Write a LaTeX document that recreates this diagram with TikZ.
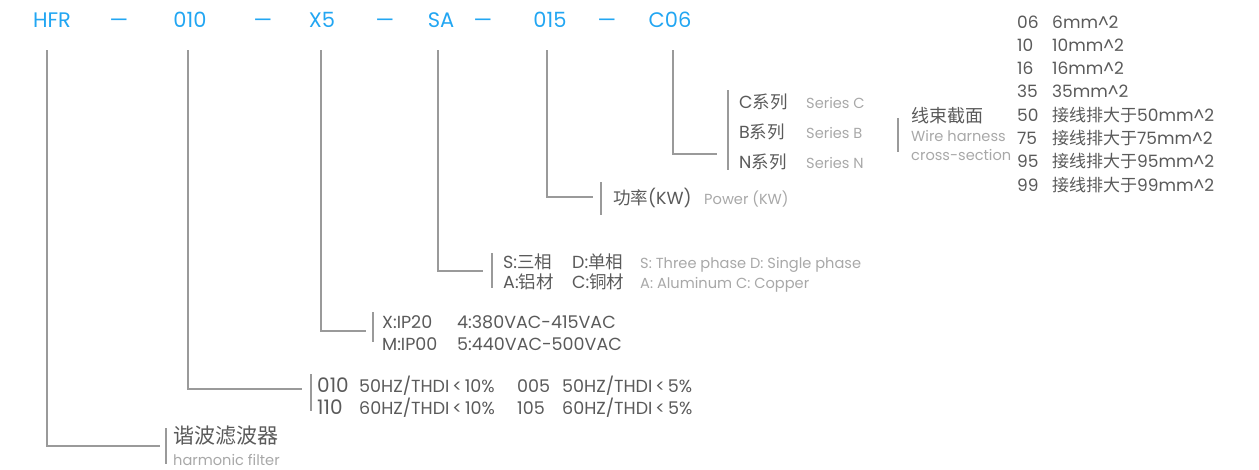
\documentclass[tikz,border=0pt]{standalone}
\usepackage{fontspec}
\setmainfont{Poppins}
\newfontfamily\cjk{Noto Sans CJK SC}
\definecolor{hblue}{HTML}{22A6F2}
\definecolor{tdark}{HTML}{5A5A5A}
\definecolor{tgrey}{HTML}{A8A8A8}
\definecolor{lgrey}{HTML}{9A9A9A}
\tikzset{
  hdr/.style={text=hblue, font=\fontsize{21}{21}\selectfont, inner sep=0pt, anchor=base},
  main/.style={text=tdark, font=\fontsize{17.5}{17.5}\selectfont, inner sep=0pt, anchor=base west},
  big/.style={text=tdark, font=\fontsize{20}{20}\selectfont, inner sep=0pt, anchor=base west},
  eng/.style={text=tgrey, font=\fontsize{14.6}{14.6}\selectfont, inner sep=0pt, anchor=base west},
  lst/.style={text=tdark, font=\fontsize{17}{17}\selectfont, inner sep=0pt, anchor=base west},
  conn/.style={draw=lgrey, line width=1.3pt},
}
\begin{document}
\begin{tikzpicture}[x=1pt,y=-1pt]
\useasboundingbox (0,0) rectangle (1259,469);
% header
\node[hdr] (hfr) at (52,27) {HFR};
\node[hdr] (d1) at (119,27) {—};
\node[hdr] (n010) at (190,27) {010};
\node[hdr] (d2) at (263,27) {—};
\node[hdr] (x5) at (322,27) {X5};
\node[hdr] (d3) at (385,27) {—};
\node[hdr] (sa) at (441,27) {SA};
\node[hdr] (d4) at (483,27) {—};
\node[hdr] (n015) at (550,27) {015};
\node[hdr] (d5) at (607,27) {—};
\node[hdr] (c06) at (670,27) {C06};
% connector coordinates
\coordinate (t1) at (47,50);   \coordinate (e1) at (160,446);
\coordinate (t2) at (188,50);  \coordinate (e2) at (302,389);
\coordinate (t3) at (321,50);  \coordinate (e3) at (366,331);
\coordinate (t4) at (438,50);  \coordinate (e4) at (483,271);
\coordinate (t5) at (547,50);  \coordinate (e5) at (593,197);
\coordinate (t6) at (673,50);  \coordinate (e6) at (717,154);
\draw[conn] (t1) |- (e1);
\draw[conn] (t2) |- (e2);
\draw[conn] (t3) |- (e3);
\draw[conn] (t4) |- (e4);
\draw[conn] (t5) |- (e5);
\draw[conn] (t6) |- (e6);
% bars
\coordinate (b1a) at (166,428); \coordinate (b1b) at (166,464);
\coordinate (b2a) at (311,374); \coordinate (b2b) at (311,411);
\coordinate (b3a) at (373,312); \coordinate (b3b) at (373,342);
\coordinate (b4a) at (492,253); \coordinate (b4b) at (492,288);
\coordinate (b5a) at (601,182); \coordinate (b5b) at (601,215);
\coordinate (b6a) at (728,90);  \coordinate (b6b) at (728,170);
\coordinate (b7a) at (898,118); \coordinate (b7b) at (898,152);
\draw[conn] (b1a) -- (b1b);
\draw[conn] (b2a) -- (b2b);
\draw[conn] (b3a) -- (b3b);
\draw[conn] (b4a) -- (b4b);
\draw[conn] (b5a) -- (b5b);
\draw[conn] (b6a) -- (b6b);
\draw[conn] (b7a) -- (b7b);
% harmonic filter
\node[main, font=\cjk\fontsize{21}{21}\selectfont] (hf) at (173,443) {谐波滤波器};
\node[eng] (hfe) at (173,465) {harmonic filter};
% 010 rows
\node[big] (r1a) at (317,392) {010};
\node[main] (r1b) at (359,392) {50HZ/THDI\,<\,10\%};
\node[main] (r1c) at (517,392) {005};
\node[main] (r1d) at (562,392) {50HZ/THDI\,<\,5\%};
\node[big] (r2a) at (317,414) {110};
\node[main] (r2b) at (359,414) {60HZ/THDI\,<\,10\%};
\node[main] (r2c) at (517,414) {105};
\node[main] (r2d) at (562,414) {60HZ/THDI\,<\,5\%};
% X rows
\node[main] (x1a) at (382,328) {X:IP20};
\node[main] (x1b) at (457,328) {4:380VAC-415VAC};
\node[main] (x2a) at (382,350) {M:IP00};
\node[main] (x2b) at (457,350) {5:440VAC-500VAC};
% S rows
\node[main] (s1a) at (503,268) {S:{\cjk 三相}};
\node[main] (s1b) at (572,268) {D:{\cjk 单相}};
\node[eng] (s1e) at (640,268) {S: Three phase D: Single phase};
\node[main] (s2a) at (503,288) {A:{\cjk 铝材}};
\node[main] (s2b) at (572,288) {C:{\cjk 铜材}};
\node[eng] (s2e) at (640,288) {A: Aluminum C: Copper};
% power
\node[main] (pw) at (613,204) {{\cjk 功率}(KW)};
\node[eng] (pwe) at (704,204) {Power (KW)};
% series
\node[main] (sc) at (739,108) {C{\cjk 系列}};
\node[eng] (sce) at (806,108) {Series C};
\node[main] (sb) at (739,138) {B{\cjk 系列}};
\node[eng] (sbe) at (806,138) {Series B};
\node[main] (sn) at (739,168) {N{\cjk 系列}};
\node[eng] (sne) at (806,168) {Series N};
% harness
\node[main, font=\cjk\fontsize{18}{18}\selectfont] (wh) at (911,122) {线束截面};
\node[eng] (whe1) at (911,141) {Wire harness};
\node[eng] (whe2) at (911,160) {cross-section};
% list
\foreach \n/\t [count=\i from 0] in {06/6mm\^{}2, 10/10mm\^{}2, 16/16mm\^{}2, 35/35mm\^{}2,
  50/{\cjk 接线排大于}50mm\^{}2, 75/{\cjk 接线排大于}75mm\^{}2,
  95/{\cjk 接线排大于}95mm\^{}2, 99/{\cjk 接线排大于}99mm\^{}2}{
  \node[lst] (ln\i) at (1017,28+23.3*\i) {\n};
  \node[lst] (lt\i) at (1052,28+23.3*\i) {\t};
}
\end{tikzpicture}
\end{document}
